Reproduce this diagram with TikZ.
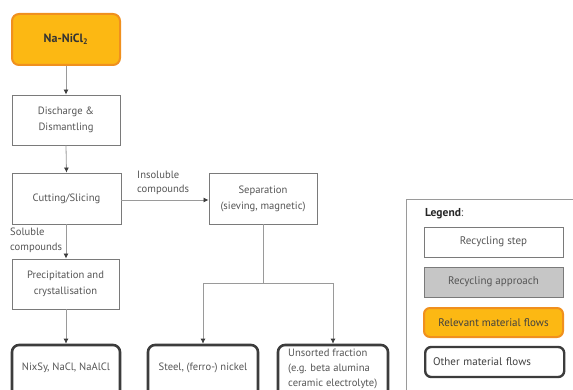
\documentclass[tikz,border=0pt]{standalone}
\usepackage{fontspec}
\setmainfont{PT Sans}
\usetikzlibrary{arrows.meta}
\definecolor{txt}{HTML}{555555}
\definecolor{boxline}{HTML}{7A7A7A}
\definecolor{orfill}{HTML}{FCB813}
\definecolor{orline}{HTML}{F0901E}
\definecolor{grfill}{HTML}{C6C6C6}
\definecolor{darkline}{HTML}{3C3C3C}
\definecolor{flow}{HTML}{9A9A9A}
\tikzset{
  stepbox/.style={draw=boxline, line width=0.9pt, fill=white, minimum width=108pt, minimum height=50pt, align=center, text=txt, font=\fontsize{10.6}{16}\selectfont, inner sep=0pt},
  relbox/.style={draw=orline, line width=2pt, fill=orfill, rounded corners=7pt, minimum width=108pt, minimum height=51pt, align=center, text=black!80, font=\fontsize{12}{14}\selectfont\bfseries, inner sep=0pt},
  otherbox/.style={draw=darkline, line width=2.6pt, fill=white, rounded corners=7pt, minimum width=108pt, minimum height=60pt, inner sep=0pt},
  plain/.style={text=txt, font=\fontsize{10.6}{15}\selectfont, inner sep=0pt, align=left},
  flowline/.style={draw=flow, line width=0.8pt},
  flowarrow/.style={flowline, -{Latex[length=5pt,width=5pt,color=darkline]}},
  legstep/.style={draw=boxline, line width=0.9pt, fill=white, minimum width=139pt, minimum height=30pt, text=txt, font=\fontsize{11}{13}\selectfont, inner sep=0pt},
}
\begin{document}
\begin{tikzpicture}[x=1pt,y=-1pt]
\useasboundingbox (0,0) rectangle (573,390);
\clip (0,0) rectangle (573,390);
% main chain
\node[relbox] (na) at (66,39.5) {Na-NiCl\textsubscript{2}};
\node[stepbox] (dis) at (66,120) {Discharge \&\\Dismantling};
\node[stepbox, minimum width=109pt, minimum height=51pt] (cut) at (66.5,198.5) {Cutting/Slicing};
\node[stepbox, minimum height=51pt] (sep) at (263,198.5) {Separation\\(sieving, magnetic)};
\node[stepbox, minimum width=107pt] (pre) at (65.5,284) {Precipitation and\\crystallisation};
% bottom boxes
\node[otherbox] (b1) at (66,375) {};
\node[otherbox, minimum width=110pt] (b2) at (203,375) {};
\node[otherbox, minimum width=110pt] (b3) at (333,375) {};
\node[plain] (t1) at (66,368) {NixSy, NaCl, NaAlCl};
\node[plain] (t2) at (203,368) {Steel, (ferro-) nickel};
\node[plain, anchor=west, font=\fontsize{10.6}{15}\selectfont] (t3) at (288,369) {Unsorted fraction\\(e.g. beta alumina\\ceramic electrolyte)};
% labels
\node[plain, anchor=west, font=\fontsize{10.6}{14.5}\selectfont] (lins) at (137,183) {Insoluble\\compounds};
\node[plain, anchor=west, font=\fontsize{10.6}{14.5}\selectfont] (lsol) at (10,240.5) {Soluble\\compounds};
% connectors
\draw[flowarrow] (na.south) -- (dis.north);
\draw[flowarrow] (dis.south) -- (cut.north);
\draw[flowarrow] (cut.east |- 0,200) -- (sep.west |- 0,200);
\draw[flowarrow] (cut.south -| 66,0) -- (pre.north -| 66,0);
\draw[flowarrow] (pre.south -| 66,0) -- (b1.north);
\coordinate (split) at (263,283);
\draw[flowline] (sep.south) -- (split);
\draw[flowarrow] (split) -| (b2.north);
\draw[flowarrow] (split) -| (b3.north);
% legend
\node[draw=flow, line width=0.9pt, fill=white, minimum width=180pt, minimum height=210pt, anchor=north west, inner sep=0pt] (leg) at (406,199) {};
\node[anchor=west, inner sep=0pt, font=\fontsize{11.5}{13}\selectfont\bfseries, text=black!85] (legt) at (425,213.5) {Legend\textcolor{txt}{\mdseries:}};
\node[legstep] (l1) at (493.5,242) {Recycling step};
\node[legstep, fill=grfill] (l2) at (493.5,282) {Recycling approach};
\node[legstep, draw=orline, line width=2pt, fill=orfill, rounded corners=6pt, minimum height=29pt, text=black!75] (l3) at (493.5,322.5) {Relevant material flows};
\node[legstep, draw=darkline, line width=2.4pt, rounded corners=6pt, text=black!75, anchor=west, align=left, text width=123pt] (l4) at (424,362) {Other material flows};
\end{tikzpicture}
\end{document}
